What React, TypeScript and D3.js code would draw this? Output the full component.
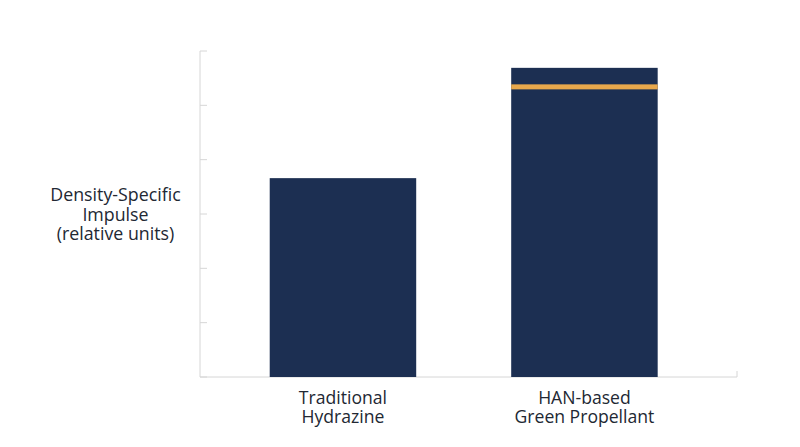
import React from "react";
import * as d3 from "d3";

const categories: string[][] = [
  ["Traditional", "Hydrazine"],
  ["HAN-based", "Green Propellant"],
];
const values: number[] = [3.66, 5.69];
const markerValue: number[] = [NaN, 5.34];
const yTicks: number[] = [0, 1, 2, 3, 4, 5, 6];
const yLabel: string[] = ["Density-Specific", "Impulse", "(relative units)"];

const W = 800;
const H = 447;
const left = 200;
const right = 737;
const top = 51;
const bottom = 377;

export default function App() {
  const keys = categories.map((c) => c.join(" "));
  const x = d3.scaleBand<string>().domain(keys).range([left, 727.4]).paddingInner(0.3934).paddingOuter(0.2887);
  const y = d3.scaleLinear().domain([0, 6]).range([bottom, top]);
  const font = "'Open Sans', sans-serif";
  const navy = "#1c2f52";
  const text = "#222833";
  return (
    <svg width={W} height={H} style={{ position: "absolute", left: 0, top: 0, background: "#fff" }}>
      {/* y axis */}
      <line x1={left} x2={left} y1={y(6)} y2={y(0)} stroke="#d6d6d6" strokeWidth={1} />
      {yTicks.map((t) => (
        <line key={t} x1={left} x2={left + 7} y1={y(t)} y2={y(t)} stroke="#d6d6d6" strokeWidth={1} />
      ))}
      {/* x axis */}
      <line x1={left} x2={right} y1={y(0)} y2={y(0)} stroke="#d6d6d6" strokeWidth={1} />
      <line x1={right} x2={right} y1={y(0)} y2={y(0) - 6} stroke="#d6d6d6" strokeWidth={1} />
      {/* bars */}
      {keys.map((k, i) => (
        <g key={k}>
          <rect x={x(k)} y={y(values[i])} width={x.bandwidth()} height={y(0) - y(values[i])} fill={navy} />
          {!isNaN(markerValue[i]) && (
            <rect x={x(k)} y={y(markerValue[i]) - 2.5} width={x.bandwidth()} height={5} fill="#e8a84c" />
          )}
        </g>
      ))}
      {/* x labels */}
      {categories.map((lines, i) =>
        lines.map((l, j) => (
          <text key={i + "-" + j} x={(x(keys[i]) as number) + x.bandwidth() / 2} y={404 + j * 19} textAnchor="middle" fontFamily={font} fontSize={17.6} fill={text}>
            {l}
          </text>
        ))
      )}
      {/* y label */}
      {yLabel.map((l, j) => (
        <text key={j} x={115.5} y={201 + j * 19.5} textAnchor="middle" fontFamily={font} fontSize={17.8} fill={text}>
          {l}
        </text>
      ))}
    </svg>
  );
}
